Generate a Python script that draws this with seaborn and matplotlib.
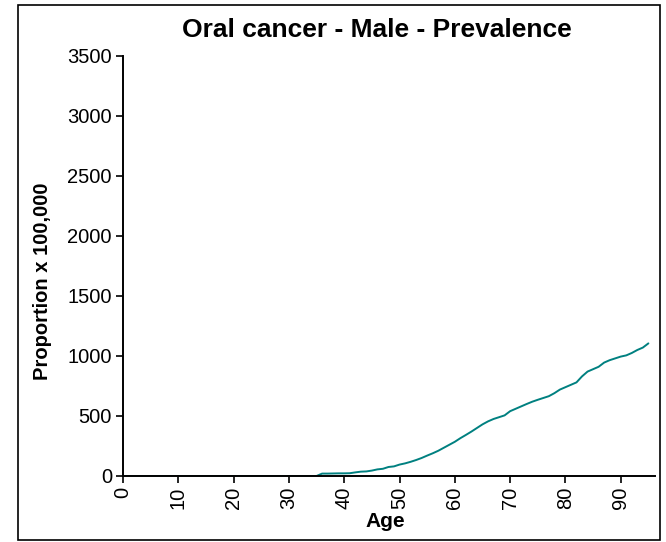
import numpy as np
import pandas as pd
import matplotlib
matplotlib.use("Agg")
import matplotlib.pyplot as plt
import seaborn as sns
from matplotlib.patches import Rectangle

ages = list(range(0, 96))
early = [0] * 36
late = [20, 20, 21, 22, 22, 23, 30, 36, 38, 45, 55, 60, 75, 80, 95, 105,
        118, 133, 150, 170, 189, 210, 235, 260, 285, 315, 342, 370, 400,
        430, 455, 475, 490, 505, 540, 560, 580, 600, 619, 635, 650, 665,
        690, 720, 740, 760, 780, 830, 870, 890, 910, 945, 965, 980, 995,
        1005, 1025, 1050, 1070, 1105]
prevalence = early + late
xticks = list(range(0, 100, 10))
yticks = list(range(0, 4000, 500))

df = pd.DataFrame({"Age": ages, "Prevalence": prevalence})

sns.set_style("white")
plt.rcParams["font.family"] = ["Liberation Sans", "DejaVu Sans"]
plt.rcParams["text.color"] = "black"
plt.rcParams["axes.labelcolor"] = "black"
plt.rcParams["xtick.color"] = "black"
plt.rcParams["ytick.color"] = "black"

fig = plt.figure(figsize=(6.66, 5.42), dpi=100)
ax = fig.add_axes([0.1847, 0.1218, 0.7988, 0.7749])
sns.lineplot(data=df, x="Age", y="Prevalence", ax=ax, color="#008080",
             linewidth=1.4)

ax.set_xlim(0, 96.2)
ax.set_ylim(0, 3500)
ax.set_xticks(xticks)
ax.set_yticks(yticks)
ax.set_xticklabels([str(t) for t in xticks], rotation=90, fontsize=14.5)
ax.set_yticklabels([str(t) for t in yticks], fontsize=14.5)
ax.tick_params(axis="both", direction="out", length=5, width=1.2,
               bottom=True, left=True, pad=3)
for s in ["top", "right"]:
    ax.spines[s].set_visible(False)
for s in ["left", "bottom"]:
    ax.spines[s].set_color("black")
    ax.spines[s].set_linewidth(1.4)

ax.set_xlabel("Age", fontsize=15, fontweight="bold")
ax.xaxis.set_label_coords((385 - 123) / 532, -(512 - 476) / 420)
ax.set_ylabel("Proportion x 100,000", fontsize=14.5, fontweight="bold")
ax.yaxis.set_label_coords((52 - 123) / 532, (476 - 281) / 420)
fig.text(377 / 666, 1 - 30 / 542, "Oral cancer - Male - Prevalence",
         fontsize=19, fontweight="bold", ha="center", va="center")

fig.patches.append(Rectangle((18 / 666, 2 / 542), 642 / 666, 535 / 542,
                             transform=fig.transFigure, fill=False,
                             edgecolor="black", linewidth=1.2))

fig.savefig("out.png", dpi=100)
